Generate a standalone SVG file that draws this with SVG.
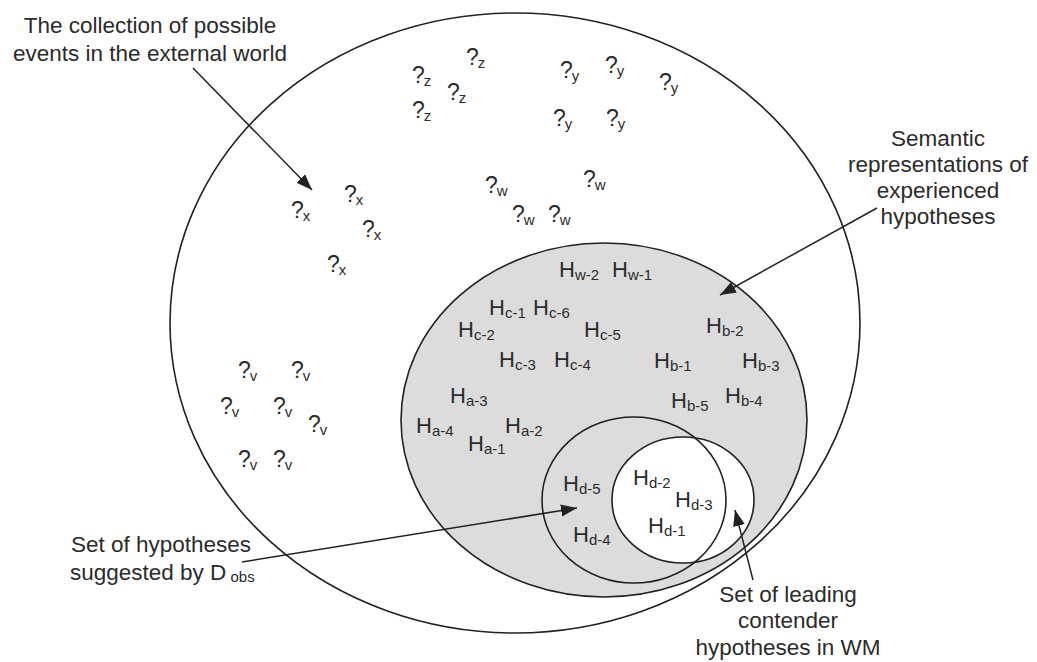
<svg xmlns="http://www.w3.org/2000/svg" width="1037" height="662" viewBox="0 0 1037 662">
<style>
text{font-family:"Liberation Sans",Arial,sans-serif;fill:#2b2b2b}
.lbl{font-size:22.5px;text-anchor:middle}
.q{font-size:23px}
.h{font-size:22px}
.s{font-size:15px}
.ln{stroke:#222;stroke-width:1.6}
.ar{fill:none;stroke:#222;stroke-width:1.5}
</style>
<defs>
<marker id="ah" markerUnits="userSpaceOnUse" markerWidth="18" markerHeight="14" refX="16" refY="6" orient="auto" viewBox="0 0 18 12">
<path d="M0,0 L16,6 L0,12 Z" fill="#222"/>
</marker>
</defs>
<rect width="1037" height="662" fill="#fff"/>
<g id="world">
<ellipse cx="515" cy="323" rx="345" ry="310" fill="#fff" class="ln"/>
</g>
<g id="semantic">
<ellipse cx="604" cy="420" rx="203" ry="177" fill="#dcdcdc" class="ln"/>
</g>
<g id="leading">
<ellipse cx="683" cy="500" rx="71" ry="63" fill="#fff" class="ln"/>
</g>
<g id="suggested">
<ellipse cx="634" cy="500" rx="92" ry="83" fill="none" class="ln"/>
</g>
<g id="events">
<text class="q" x="412" y="83">?<tspan class="s" dx="-1" dy="3">z</tspan></text>
<text class="q" x="466" y="65">?<tspan class="s" dx="-1" dy="3">z</tspan></text>
<text class="q" x="447" y="100">?<tspan class="s" dx="-1" dy="3">z</tspan></text>
<text class="q" x="412" y="118">?<tspan class="s" dx="-1" dy="3">z</tspan></text>
<text class="q" x="560" y="78">?<tspan class="s" dx="-1" dy="3">y</tspan></text>
<text class="q" x="605" y="73">?<tspan class="s" dx="-1" dy="3">y</tspan></text>
<text class="q" x="659" y="90">?<tspan class="s" dx="-1" dy="3">y</tspan></text>
<text class="q" x="553" y="126">?<tspan class="s" dx="-1" dy="3">y</tspan></text>
<text class="q" x="606" y="126">?<tspan class="s" dx="-1" dy="3">y</tspan></text>
<text class="q" x="485" y="193">?<tspan class="s" dx="-1" dy="3">w</tspan></text>
<text class="q" x="583" y="187">?<tspan class="s" dx="-1" dy="3">w</tspan></text>
<text class="q" x="512" y="222">?<tspan class="s" dx="-1" dy="3">w</tspan></text>
<text class="q" x="548" y="222">?<tspan class="s" dx="-1" dy="3">w</tspan></text>
<text class="q" x="291" y="218">?<tspan class="s" dx="-1" dy="3">x</tspan></text>
<text class="q" x="344" y="202">?<tspan class="s" dx="-1" dy="3">x</tspan></text>
<text class="q" x="362" y="237">?<tspan class="s" dx="-1" dy="3">x</tspan></text>
<text class="q" x="327" y="272">?<tspan class="s" dx="-1" dy="3">x</tspan></text>
<text class="q" x="238" y="378">?<tspan class="s" dx="-1" dy="3">v</tspan></text>
<text class="q" x="291" y="378">?<tspan class="s" dx="-1" dy="3">v</tspan></text>
<text class="q" x="220" y="414">?<tspan class="s" dx="-1" dy="3">v</tspan></text>
<text class="q" x="273" y="414">?<tspan class="s" dx="-1" dy="3">v</tspan></text>
<text class="q" x="308" y="432">?<tspan class="s" dx="-1" dy="3">v</tspan></text>
<text class="q" x="238" y="467">?<tspan class="s" dx="-1" dy="3">v</tspan></text>
<text class="q" x="273" y="467">?<tspan class="s" dx="-1" dy="3">v</tspan></text>
</g>
<g id="hypotheses">
<text class="h" x="559" y="277">H<tspan class="s" dy="3">w-2</tspan></text>
<text class="h" x="612" y="277">H<tspan class="s" dy="3">w-1</tspan></text>
<text class="h" x="489" y="315">H<tspan class="s" dy="3">c-1</tspan></text>
<text class="h" x="533" y="315">H<tspan class="s" dy="3">c-6</tspan></text>
<text class="h" x="458" y="337">H<tspan class="s" dy="3">c-2</tspan></text>
<text class="h" x="584" y="337">H<tspan class="s" dy="3">c-5</tspan></text>
<text class="h" x="706" y="333">H<tspan class="s" dy="3">b-2</tspan></text>
<text class="h" x="499" y="367">H<tspan class="s" dy="3">c-3</tspan></text>
<text class="h" x="554" y="367">H<tspan class="s" dy="3">c-4</tspan></text>
<text class="h" x="654" y="368">H<tspan class="s" dy="3">b-1</tspan></text>
<text class="h" x="742" y="368">H<tspan class="s" dy="3">b-3</tspan></text>
<text class="h" x="450" y="403">H<tspan class="s" dy="3">a-3</tspan></text>
<text class="h" x="671" y="408">H<tspan class="s" dy="3">b-5</tspan></text>
<text class="h" x="725" y="403">H<tspan class="s" dy="3">b-4</tspan></text>
<text class="h" x="416" y="433">H<tspan class="s" dy="3">a-4</tspan></text>
<text class="h" x="505" y="433">H<tspan class="s" dy="3">a-2</tspan></text>
<text class="h" x="468" y="451">H<tspan class="s" dy="3">a-1</tspan></text>
<text class="h" x="563" y="491">H<tspan class="s" dy="3">d-5</tspan></text>
<text class="h" x="633" y="485">H<tspan class="s" dy="3">d-2</tspan></text>
<text class="h" x="675" y="507">H<tspan class="s" dy="3">d-3</tspan></text>
<text class="h" x="648" y="533">H<tspan class="s" dy="3">d-1</tspan></text>
<text class="h" x="573" y="542">H<tspan class="s" dy="3">d-4</tspan></text>
</g>
<g id="labels">
<text class="lbl" x="150" y="33">The collection of possible</text>
<text class="lbl" x="150" y="61">events in the external world</text>
<text class="lbl" x="938" y="146">Semantic</text>
<text class="lbl" x="938" y="172">representations of</text>
<text class="lbl" x="938" y="198">experienced</text>
<text class="lbl" x="938" y="224">hypotheses</text>
<text class="lbl" x="161" y="552">Set of hypotheses</text>
<text x="70" y="580" style="font-size:22.5px">suggested by D<tspan class="s" dy="2"> obs</tspan></text>
<text class="lbl" x="788" y="602">Set of leading</text>
<text class="lbl" x="788" y="628">contender</text>
<text class="lbl" x="788" y="655">hypotheses in WM</text>
</g>
<g id="connectors">
<line class="ar" x1="193" y1="68" x2="312" y2="190" marker-end="url(#ah)"/>
<line class="ar" x1="877" y1="208" x2="720" y2="295" marker-end="url(#ah)"/>
<line class="ar" x1="242" y1="562" x2="577" y2="508" marker-end="url(#ah)"/>
<line class="ar" x1="753" y1="580" x2="735" y2="510" marker-end="url(#ah)"/>
</g>
</svg>
